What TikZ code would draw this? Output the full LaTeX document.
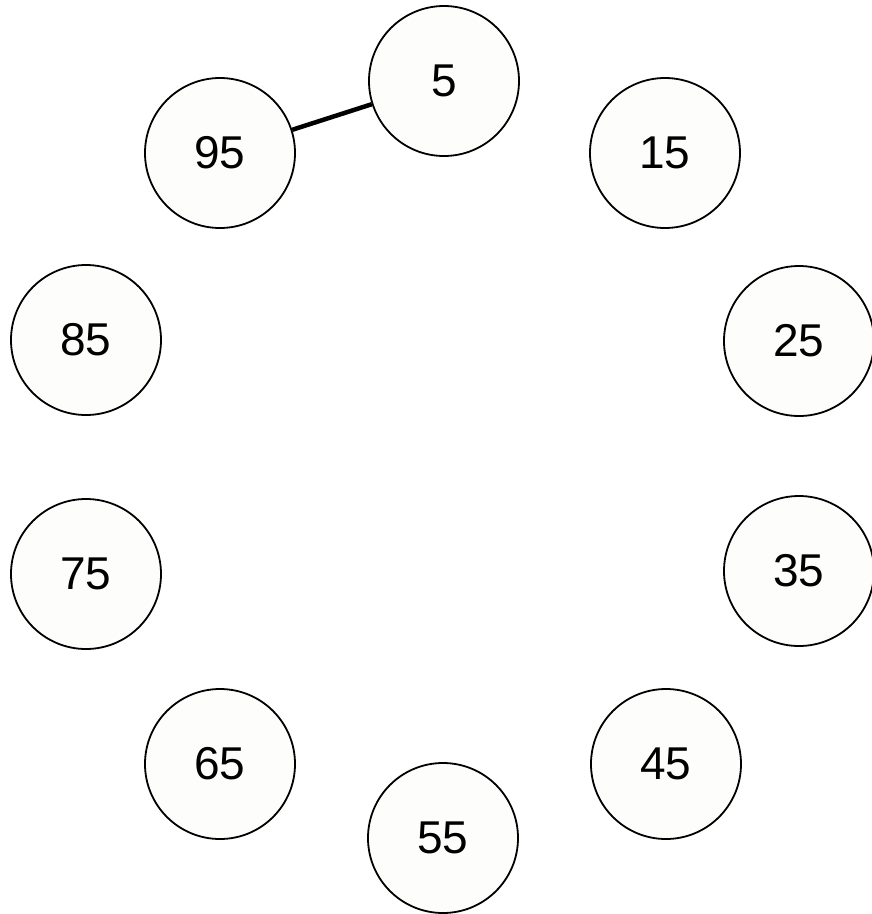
\documentclass[tikz,border=0pt]{standalone}
\usepackage{fontspec}
\setmainfont{Liberation Sans}
\definecolor{nodefill}{RGB}{253,253,251}
\begin{document}
\begin{tikzpicture}[x=1pt,y=1pt,
  vnode/.style={circle,draw=black,line width=1.8pt,fill=nodefill,minimum size=150pt,inner sep=0pt,font=\fontsize{46}{46}\selectfont},
  edgeline/.style={line width=4.5pt,draw=black}]
\useasboundingbox (0,0) rectangle (872,-914);
\foreach \v/\px/\py in {5/444/81,15/665/153,25/799/341,35/799/571,45/666/764,55/443/838,65/220/764,75/86/574,85/86/340,95/220/153}{
  \node[vnode] (n\v) at (\px,-\py) {\v};
}
\draw[edgeline] (n95) -- (n5);
\end{tikzpicture}
\end{document}
